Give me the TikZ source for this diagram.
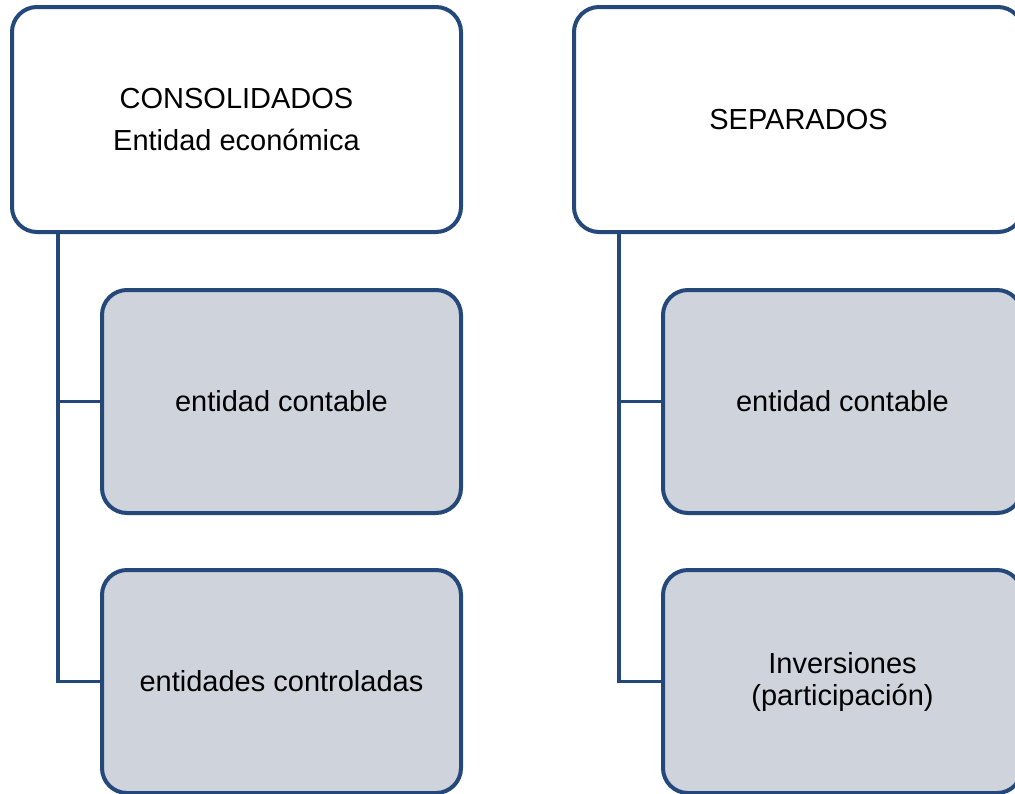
\documentclass[tikz,border=0pt]{standalone}
\usepackage{fontspec}
\setmainfont{Liberation Sans}
\usepackage{xcolor}
\definecolor{myblue}{HTML}{24487A}
\definecolor{mygrey}{HTML}{CFD3DC}
\tikzset{
  box/.style={draw=myblue,line width=4,rounded corners=25,align=center,
    inner sep=0,font=\fontsize{29}{42}\selectfont},
  box top/.style={box,fill=white,minimum width=449,minimum height=225},
  box child/.style={box,fill=mygrey,minimum width=359,minimum height=223},
  connect/.style={draw=myblue,line width=3.6}
}
\begin{document}
\begin{tikzpicture}[x=1pt,y=-1pt]
    \useasboundingbox (0,0) rectangle (1015,793);
    % left tree
    \coordinate (cl) at (58,232);
    \node[box child] (cont1) at (281.5,401.5) {entidad contable};
    \node[box child] (ctrl) at (281.5,681.5) {entidades controladas};
    \draw[connect] (cl) |- (cont1.west);
    \draw[connect] (cl) |- (ctrl.west);
    \node[box top] (cons) at (236.5,119.5) {CONSOLIDADOS\\Entidad económica};
    % right tree
    \coordinate (cr) at (619,232);
    \node[box child] (cont2) at (842.5,401.5) {entidad contable};
    \node[box child] (inv) at (842.5,681.5) {Inversiones\\[-10pt](participación)};
    \draw[connect] (cr) |- (cont2.west);
    \draw[connect] (cr) |- (inv.west);
    \node[box top] (sep) at (798.5,119.5) {SEPARADOS};
\end{tikzpicture}
\end{document}
